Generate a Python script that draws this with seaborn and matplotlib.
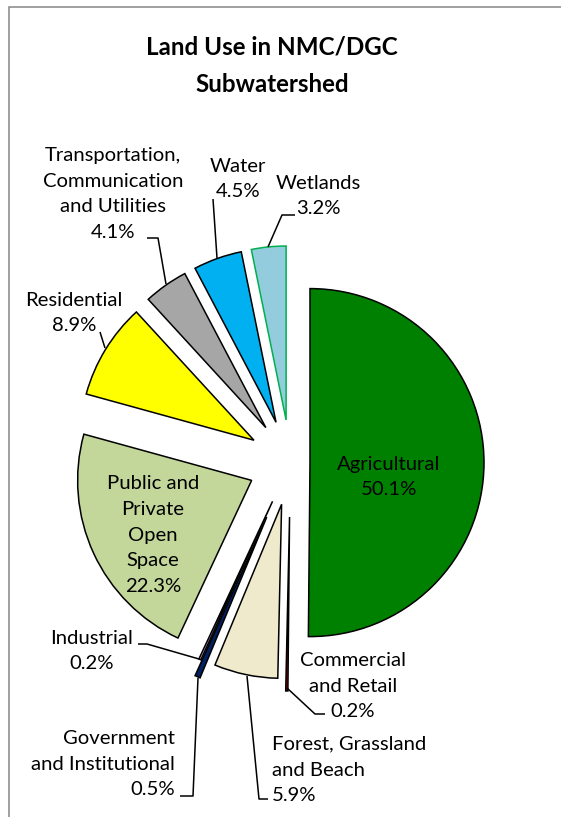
import matplotlib
matplotlib.use("Agg")
import matplotlib.pyplot as plt
from matplotlib.patches import Rectangle
import seaborn as sns

# ---- data ----
categories = ["Agricultural", "Commercial and Retail", "Forest, Grassland and Beach",
              "Government and Institutional", "Industrial", "Public and Private Open Space",
              "Residential", "Transportation, Communication and Utilities", "Water", "Wetlands"]
shares = [50.1, 0.2, 5.9, 0.5, 0.2, 22.3, 8.9, 4.1, 4.5, 3.2]
label_lines = ["Agricultural", "Commercial\nand Retail", "Forest, Grassland\nand Beach",
               "Government\nand Institutional", "Industrial", "Public and\nPrivate\nOpen\nSpace",
               "Residential", "Transportation,\nCommunication\nand Utilities", "Water", "Wetlands"]
title = "Land Use in NMC/DGC\nSubwatershed"

# ---- styles ----
fill_colors = ["#008000", "#C00000", "#EEEACB", "#002060", "#C39BE6", "#C4D79B",
               "#FFFF00", "#A6A6A6", "#00B0F0", "#93CDDD"]
edge_colors = ["black", "black", "black", "black", "black", "black",
               "black", "black", "black", "#00B050"]
explode_px = [19.6, 54.5, 42.7, 59.5, 42.7, 42.7, 42.7, 42.7, 42.7, 42.7]

W, H = 561, 817
sns.set_theme(style="white")
plt.rcParams["font.family"] = ["Lato", "DejaVu Sans"]

fig = plt.figure(figsize=(W / 100, H / 100), dpi=100)
ax = fig.add_axes([0, 0, 1, 1])

def Y(y):
    return H - y

radius = 174
center = (290.4, Y(462.5))
wedges, _ = ax.pie(shares, colors=fill_colors, explode=explode_px, startangle=90,
                   counterclock=False, radius=radius, center=center,
                   wedgeprops=dict(linewidth=1.1), normalize=True)
for w, ec in zip(wedges, edge_colors):
    w.set_edgecolor(ec)

ax.set_xlim(0, W)
ax.set_ylim(0, H)
ax.set_aspect("equal")
ax.axis("off")

# chart frame
ax.add_patch(Rectangle((9, -20), W + 20, Y(7) + 20, fill=False, edgecolor="#868686",
                       linewidth=1.1, clip_on=False))

ax.text(272, Y(66), title, ha="center", va="center", fontsize=17.4, fontweight="bold",
        color="black", linespacing=1.75)

fs = 14.6
ls = 1.62
# label placements: (x, y, ha)
placements = {
    0: (389, 477, "center"),
    1: (353, 686, "center"),
    2: (272, 770, "left"),
    3: (175, 764, "right"),
    4: (92, 651, "center"),
    5: (153, 535, "center"),
    6: (74, 313, "center"),
    7: (113, 194, "center"),
    8: (238, 179, "center"),
    9: (318, 196, "center"),
}
for i, (x, y, ha) in placements.items():
    txt = f"{label_lines[i]}\n{shares[i]:.1f}%"
    ax.text(x, Y(y), txt, ha=ha, va="center", multialignment=ha, fontsize=fs,
            linespacing=ls, color="black")

leaders = [
    [(147, 238), (158, 238), (166, 284)],
    [(213, 199), (217, 258)],
    [(295, 215), (282, 215), (268, 247)],
    [(100, 332), (105, 348)],
    [(138, 644), (147, 644), (199, 659)],
    [(180, 796), (193, 796), (198, 678)],
    [(247, 676), (259, 799), (268, 799)],
    [(287, 688), (315, 714), (325, 714)],
]
for pts in leaders:
    xs = [p[0] for p in pts]
    ys = [Y(p[1]) for p in pts]
    ax.plot(xs, ys, color="black", linewidth=1.1, solid_capstyle="butt")

fig.savefig("out.png", dpi=100, facecolor="white")
